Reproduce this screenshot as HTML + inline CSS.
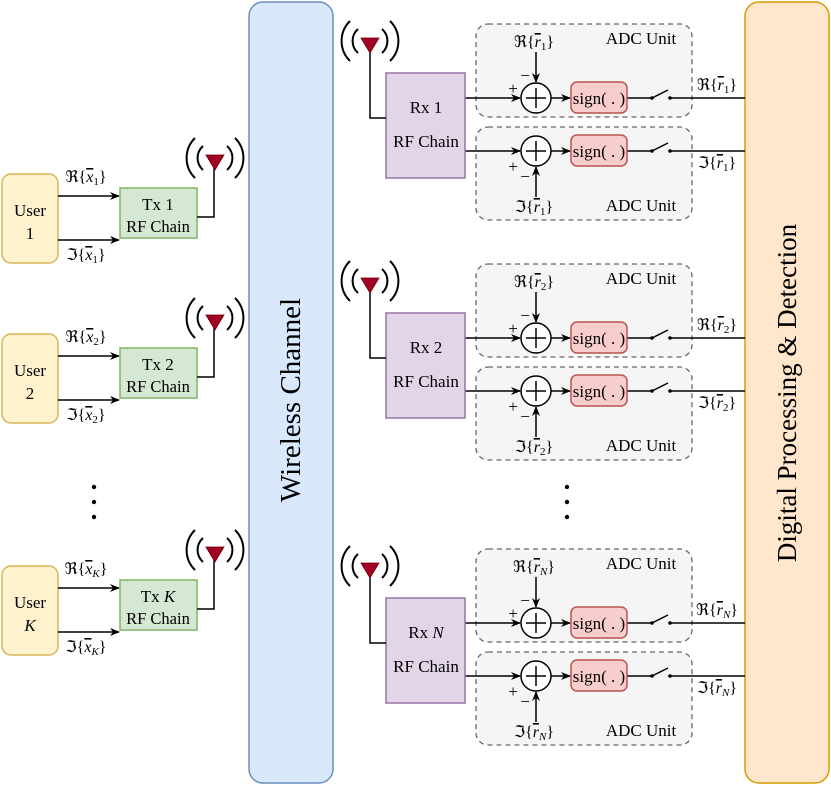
<!DOCTYPE html>
<html><head><meta charset="utf-8"><style>
html,body{margin:0;padding:0;background:#fff}
svg text{font-family:"Liberation Serif","DejaVu Serif",serif;fill:#000}
.ov{text-decoration:overline;font-style:italic}
</style></head><body>
<svg width="831" height="791" viewBox="0 0 831 791" xmlns="http://www.w3.org/2000/svg">
<defs>
<marker id="ar" markerWidth="10" markerHeight="8" refX="9" refY="4" orient="auto" markerUnits="userSpaceOnUse">
<path d="M0,0 L10,4 L0,8 L3,4 Z" fill="#000"/></marker>
<g id="ant">
<path d="M-9,-3 L9,-3 L0,12 Z" fill="#a20025" stroke="#6f0000" stroke-width="0.8"/>
<path d="M-12,-12 A16,16 0 0 0 -12,12" fill="none" stroke="#000" stroke-width="2"/>
<path d="M12,-12 A16,16 0 0 1 12,12" fill="none" stroke="#000" stroke-width="2"/>
<path d="M-20,-20 A28,28 0 0 0 -20,20" fill="none" stroke="#000" stroke-width="2"/>
<path d="M20,-20 A28,28 0 0 1 20,20" fill="none" stroke="#000" stroke-width="2"/>
</g>
<g id="tx">
<rect x="2" y="174" width="56" height="89" rx="9" fill="#fff2cc" stroke="#d6b656" stroke-width="1.5"/>
<line x1="58" y1="196" x2="119" y2="196" stroke="#000" stroke-width="1.5" marker-end="url(#ar)"/>
<line x1="58" y1="240" x2="119" y2="240" stroke="#000" stroke-width="1.5" marker-end="url(#ar)"/>
<rect x="120" y="188" width="77" height="50" fill="#d5e8d4" stroke="#82b366" stroke-width="1.5"/>
<polyline points="197,217 214,217 214,162" fill="none" stroke="#000" stroke-width="1.5"/>
<use href="#ant" x="215" y="158"/>
<text x="158" y="232" font-size="16.5" text-anchor="middle">RF Chain</text>
</g>
<g id="adc">
<rect x="476" y="24" width="216" height="93" rx="12" fill="#f5f5f5" stroke="#666" stroke-width="1.3" stroke-dasharray="5,4"/>
<rect x="476" y="127" width="216" height="93" rx="12" fill="#f5f5f5" stroke="#666" stroke-width="1.3" stroke-dasharray="5,4"/>
<text x="641" y="44" font-size="17" text-anchor="middle">ADC Unit</text>
<text x="641" y="211" font-size="17" text-anchor="middle">ADC Unit</text>
<g stroke="#000" stroke-width="1.5" fill="none">
<line x1="465" y1="98" x2="520" y2="98" marker-end="url(#ar)"/>
<line x1="465" y1="151" x2="520" y2="151" marker-end="url(#ar)"/>
<circle cx="536" cy="98" r="15" fill="#fff"/>
<circle cx="536" cy="151" r="15" fill="#fff"/>
<path d="M526,98 H546 M536,88 V108 M526,151 H546 M536,141 V161"/>
<line x1="551" y1="98" x2="570" y2="98" marker-end="url(#ar)"/>
<line x1="551" y1="151" x2="570" y2="151" marker-end="url(#ar)"/>
<line x1="536" y1="52" x2="536" y2="82" marker-end="url(#ar)"/>
<line x1="536" y1="197" x2="536" y2="167" marker-end="url(#ar)"/>
<path d="M627,98 H652 L668,90 M670,98 H745 M627,151 H652 L668,143 M670,151 H745"/>
</g>
<circle cx="652" cy="98" r="1.8"/><circle cx="670" cy="98" r="1.8"/>
<circle cx="652" cy="151" r="1.8"/><circle cx="670" cy="151" r="1.8"/>
<rect x="571" y="82" width="56" height="31" rx="6" fill="#f8cecc" stroke="#b85450" stroke-width="1.5"/>
<rect x="571" y="135" width="56" height="31" rx="6" fill="#f8cecc" stroke="#b85450" stroke-width="1.5"/>
<text x="599" y="104" font-size="17" text-anchor="middle">sign( . )</text>
<text x="599" y="157" font-size="17" text-anchor="middle">sign( . )</text>
<text x="513" y="94" font-size="17" text-anchor="middle">+</text>
<text x="525" y="81" font-size="17" text-anchor="middle">−</text>
<text x="513" y="172" font-size="17" text-anchor="middle">+</text>
<text x="525" y="182" font-size="17" text-anchor="middle">−</text>
<rect x="386" y="73" width="79" height="105" fill="#e1d5e7" stroke="#9673a6" stroke-width="1.5"/>
<polyline points="370,45 370,118 386,118" fill="none" stroke="#000" stroke-width="1.5"/>
<use href="#ant" x="370" y="41"/>
<text x="426" y="147" font-size="17" text-anchor="middle">RF Chain</text>
</g>
</defs>

<rect x="249" y="2" width="84" height="781" rx="14" fill="#dae8fc" stroke="#6c8ebf" stroke-width="1.5"/>
<text transform="translate(300,400) rotate(-90)" font-size="29" text-anchor="middle">Wireless Channel</text>
<rect x="745" y="2" width="84" height="781" rx="14" fill="#ffe6cc" stroke="#d79b00" stroke-width="1.5"/>
<text transform="translate(796,393) rotate(-90)" font-size="27" text-anchor="middle">Digital Processing &amp; Detection</text>

<!-- TX -->
<use href="#tx"/>
<text x="30" y="216" font-size="17" text-anchor="middle">User</text>
<text x="30" y="239" font-size="17" text-anchor="middle">1</text>
<text x="158" y="210" font-size="17" text-anchor="middle">Tx 1</text>
<text x="86" y="182" font-size="16" text-anchor="middle">ℜ{<tspan class="ov">x</tspan><tspan font-size="11" dy="3">1</tspan><tspan dy="-3">}</tspan></text>
<text x="86" y="260" font-size="16" text-anchor="middle">ℑ{<tspan class="ov">x</tspan><tspan font-size="11" dy="3">1</tspan><tspan dy="-3">}</tspan></text>

<use href="#tx" y="160"/>
<text x="30" y="376" font-size="17" text-anchor="middle">User</text>
<text x="30" y="399" font-size="17" text-anchor="middle">2</text>
<text x="158" y="370" font-size="17" text-anchor="middle">Tx 2</text>
<text x="86" y="342" font-size="16" text-anchor="middle">ℜ{<tspan class="ov">x</tspan><tspan font-size="11" dy="3">2</tspan><tspan dy="-3">}</tspan></text>
<text x="86" y="420" font-size="16" text-anchor="middle">ℑ{<tspan class="ov">x</tspan><tspan font-size="11" dy="3">2</tspan><tspan dy="-3">}</tspan></text>

<use href="#tx" y="392"/>
<text x="30" y="608" font-size="17" text-anchor="middle">User</text>
<text x="30" y="631" font-size="17" text-anchor="middle" font-style="italic">K</text>
<text x="158" y="602" font-size="17" text-anchor="middle">Tx <tspan font-style="italic">K</tspan></text>
<text x="86" y="574" font-size="16" text-anchor="middle">ℜ{<tspan class="ov">x</tspan><tspan font-size="11" dy="3" font-style="italic">K</tspan><tspan dy="-3">}</tspan></text>
<text x="86" y="652" font-size="16" text-anchor="middle">ℑ{<tspan class="ov">x</tspan><tspan font-size="11" dy="3" font-style="italic">K</tspan><tspan dy="-3">}</tspan></text>

<circle cx="94" cy="487" r="2.2"/><circle cx="94" cy="502" r="2.2"/><circle cx="94" cy="517" r="2.2"/>
<circle cx="567" cy="487" r="2.2"/><circle cx="567" cy="502" r="2.2"/><circle cx="567" cy="517" r="2.2"/>

<!-- RX 1 -->
<use href="#adc"/>
<text x="426" y="113" font-size="17" text-anchor="middle">Rx 1</text>
<text x="534" y="47" font-size="16" text-anchor="middle">ℜ{<tspan class="ov">r</tspan><tspan font-size="11" dy="3">1</tspan><tspan dy="-3">}</tspan></text>
<text x="534" y="212" font-size="16" text-anchor="middle">ℑ{<tspan class="ov">r</tspan><tspan font-size="11" dy="3">1</tspan><tspan dy="-3">}</tspan></text>
<text x="717" y="90" font-size="16" text-anchor="middle">ℜ{<tspan class="ov">r</tspan><tspan font-size="11" dy="3">1</tspan><tspan dy="-3">}</tspan></text>
<text x="717" y="168" font-size="16" text-anchor="middle">ℑ{<tspan class="ov">r</tspan><tspan font-size="11" dy="3">1</tspan><tspan dy="-3">}</tspan></text>

<!-- RX 2 -->
<use href="#adc" y="240"/>
<text x="426" y="353" font-size="17" text-anchor="middle">Rx 2</text>
<text x="534" y="287" font-size="16" text-anchor="middle">ℜ{<tspan class="ov">r</tspan><tspan font-size="11" dy="3">2</tspan><tspan dy="-3">}</tspan></text>
<text x="534" y="452" font-size="16" text-anchor="middle">ℑ{<tspan class="ov">r</tspan><tspan font-size="11" dy="3">2</tspan><tspan dy="-3">}</tspan></text>
<text x="717" y="330" font-size="16" text-anchor="middle">ℜ{<tspan class="ov">r</tspan><tspan font-size="11" dy="3">2</tspan><tspan dy="-3">}</tspan></text>
<text x="717" y="408" font-size="16" text-anchor="middle">ℑ{<tspan class="ov">r</tspan><tspan font-size="11" dy="3">2</tspan><tspan dy="-3">}</tspan></text>

<!-- RX N -->
<use href="#adc" y="525"/>
<text x="426" y="638" font-size="17" text-anchor="middle">Rx <tspan font-style="italic">N</tspan></text>
<text x="534" y="572" font-size="16" text-anchor="middle">ℜ{<tspan class="ov">r</tspan><tspan font-size="11" dy="3" font-style="italic">N</tspan><tspan dy="-3">}</tspan></text>
<text x="534" y="737" font-size="16" text-anchor="middle">ℑ{<tspan class="ov">r</tspan><tspan font-size="11" dy="3" font-style="italic">N</tspan><tspan dy="-3">}</tspan></text>
<text x="717" y="615" font-size="16" text-anchor="middle">ℜ{<tspan class="ov">r</tspan><tspan font-size="11" dy="3" font-style="italic">N</tspan><tspan dy="-3">}</tspan></text>
<text x="717" y="693" font-size="16" text-anchor="middle">ℑ{<tspan class="ov">r</tspan><tspan font-size="11" dy="3" font-style="italic">N</tspan><tspan dy="-3">}</tspan></text>
</svg>
</body></html>
